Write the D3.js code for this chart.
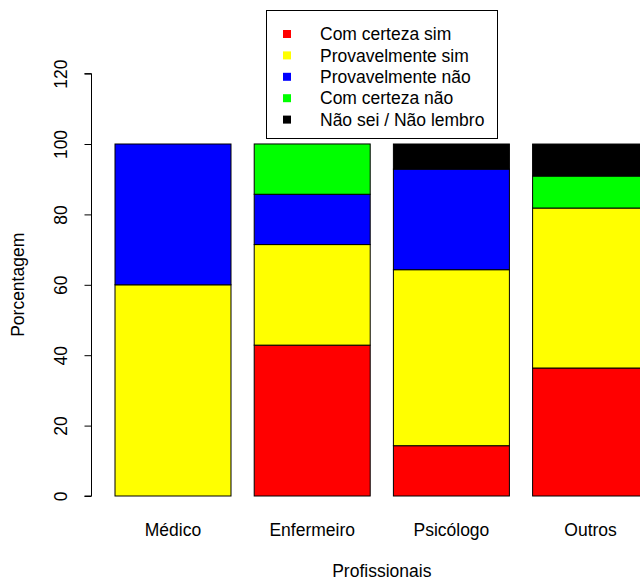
<!DOCTYPE html>
<html>
<head>
<meta charset="utf-8">
<script src="https://cdn.jsdelivr.net/npm/d3@7"></script>
<style>
  body { margin: 0; background: #fff; }
  text { font-family: "Liberation Sans", Arial, sans-serif; fill: #000; }
</style>
</head>
<body>
<div id="visual"></div>
<script>
// Data (percentages per profession)
const categories = ["Médico", "Enfermeiro", "Psicólogo", "Outros"];
const seriesNames = ["Com certeza sim", "Provavelmente sim", "Provavelmente não", "Com certeza não", "Não sei / Não lembro"];
const seriesColors = ["#ff0000", "#ffff00", "#0000ff", "#00ff00", "#000000"];
const comCertezaSim = [0, 42.86, 14.29, 36.36];
const provavelmenteSim = [60, 28.57, 50, 45.45];
const provavelmenteNao = [40, 14.29, 28.57, 0];
const comCertezaNao = [0, 14.29, 0, 9.09];
const naoSei = [0, 0, 7.14, 9.09];
const yTicks = [0, 20, 40, 60, 80, 100, 120];

const width = 640, height = 581;
const fontSize = 17.5;
const svg = d3.select("#visual").append("svg")
    .attr("width", width)
    .attr("height", height);

// R-style barplot units: bar i spans [0.2 + 1.2i, 1.2 + 1.2i]
const x = d3.scaleLinear().domain([0.2, 1.2]).range([115, 231]);
const y = d3.scaleLinear().domain([0, 100]).range([496, 144]);

const rows = categories.map((c, i) => {
    const r = { cat: c, i: i };
    r[seriesNames[0]] = comCertezaSim[i];
    r[seriesNames[1]] = provavelmenteSim[i];
    r[seriesNames[2]] = provavelmenteNao[i];
    r[seriesNames[3]] = comCertezaNao[i];
    r[seriesNames[4]] = naoSei[i];
    return r;
});
const stacked = d3.stack().keys(seriesNames)(rows);

// Bars
stacked.forEach((layer, k) => {
    svg.append("g")
        .selectAll("rect")
        .data(layer.filter(d => d[1] - d[0] > 0))
        .join("rect")
        .attr("x", d => x(0.2 + 1.2 * d.data.i))
        .attr("width", x(1) - x(0))
        .attr("y", d => y(d[1]))
        .attr("height", d => y(d[0]) - y(d[1]))
        .attr("fill", seriesColors[k])
        .attr("stroke", "#000")
        .attr("stroke-width", 1);
});

// Y axis
const yAxis = svg.append("g")
    .attr("transform", "translate(91.5,0)")
    .call(d3.axisLeft(y).tickValues(yTicks).tickSize(7));
yAxis.select(".domain").attr("stroke", "#000").attr("d", `M-7,${y(0)}H0V${y(120)}H-7`);
yAxis.selectAll(".tick line").attr("stroke", "#000");
yAxis.selectAll(".tick text")
    .attr("font-size", fontSize)
    .attr("font-family", "Liberation Sans, Arial, sans-serif")
    .attr("transform", "rotate(-90)")
    .attr("x", 0)
    .attr("y", -31)
    .attr("dy", "0.35em")
    .style("text-anchor", "middle");

// X category labels
svg.append("g")
    .selectAll("text")
    .data(categories)
    .join("text")
    .attr("x", (d, i) => x(0.7 + 1.2 * i))
    .attr("y", 536)
    .attr("text-anchor", "middle")
    .attr("font-size", fontSize)
    .text(d => d);

// Axis titles
svg.append("text")
    .attr("x", x(2.5))
    .attr("y", 577)
    .attr("text-anchor", "middle")
    .attr("font-size", fontSize)
    .text("Profissionais");

svg.append("text")
    .attr("transform", `translate(24,${y(60)}) rotate(-90)`)
    .attr("text-anchor", "middle")
    .attr("font-size", fontSize)
    .text("Porcentagem");

// Legend
const legend = svg.append("g");
legend.append("rect")
    .attr("x", 266.5).attr("y", 10.5)
    .attr("width", 231).attr("height", 128)
    .attr("fill", "#fff").attr("stroke", "#000");
seriesNames.forEach((name, k) => {
    const cy = 34 + k * 21.4;
    legend.append("rect")
        .attr("x", 283).attr("y", cy - 4)
        .attr("width", 8).attr("height", 8)
        .attr("fill", seriesColors[k]);
    legend.append("text")
        .attr("x", 320).attr("y", cy)
        .attr("dy", "0.35em")
        .attr("font-size", fontSize)
        .text(name);
});
</script>
</body>
</html>
